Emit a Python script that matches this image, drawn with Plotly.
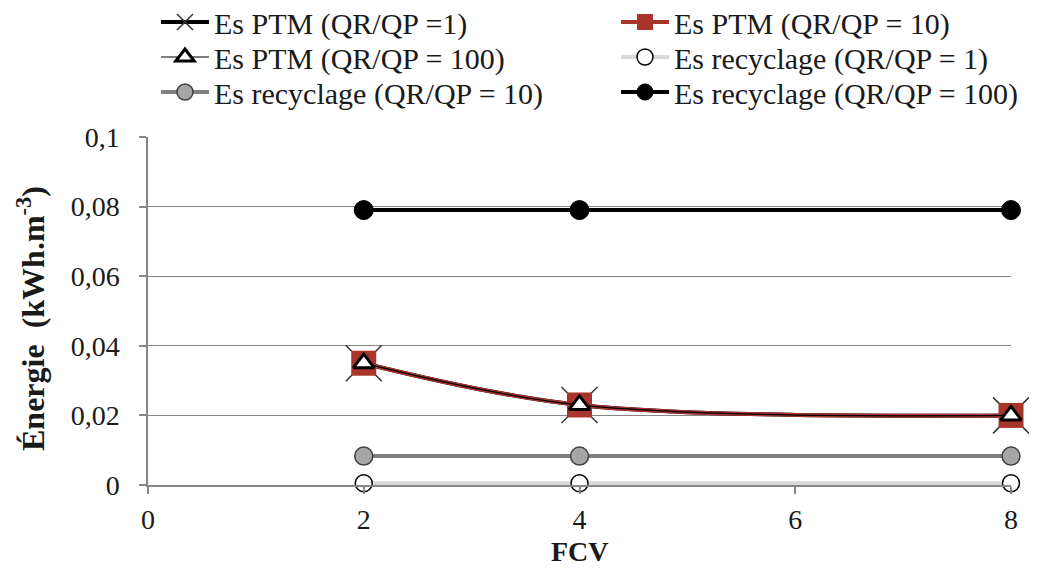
import plotly.graph_objects as go

fcv = [2, 4, 8]
ptm_1 = [0.035, 0.023, 0.020]
ptm_10 = [0.035, 0.023, 0.020]
ptm_100 = [0.035, 0.023, 0.020]
rec_1 = [0.0005, 0.0005, 0.0005]
rec_10 = [0.0083, 0.0083, 0.0083]
rec_100 = [0.079, 0.079, 0.079]

x_ticks = [0, 2, 4, 6, 8]
y_ticks = [0, 0.02, 0.04, 0.06, 0.08, 0.1]
y_tick_labels = ["0", "0,02", "0,04", "0,06", "0,08", "0,1"]

names = ["Es PTM (QR/QP =1)", "Es PTM (QR/QP = 10)", "Es PTM (QR/QP = 100)",
         "Es recyclage (QR/QP = 1)", "Es recyclage (QR/QP = 10)", "Es recyclage (QR/QP = 100)"]

FONT = "Liberation Serif, Times New Roman, serif"
TXT = "#1a1a1a"

fig = go.Figure()
fig.add_trace(go.Scatter(x=fcv, y=ptm_1, name=names[0], mode="lines+markers", legend="legend",
                         line=dict(color="black", width=4, shape="spline"),
                         marker=dict(symbol="x-thin", size=36, line=dict(color="#333333", width=1.5))))
fig.add_trace(go.Scatter(x=fcv, y=ptm_10, name=names[1], mode="lines+markers", legend="legend2",
                         line=dict(color="#A8342C", width=4, shape="spline"),
                         marker=dict(symbol="square", size=25, color="#A8342C", line=dict(width=0))))
fig.add_trace(go.Scatter(x=fcv, y=ptm_100, name=names[2], mode="lines+markers", legend="legend3",
                         line=dict(color="black", width=1.2, shape="spline"),
                         marker=dict(symbol="triangle-up", size=18, color="white", line=dict(color="black", width=3))))
fig.add_trace(go.Scatter(x=fcv, y=rec_1, name=names[3], mode="lines+markers", legend="legend4",
                         line=dict(color="#D9D9D9", width=4),
                         marker=dict(symbol="circle", size=17, color="white", line=dict(color="black", width=1.5))))
fig.add_trace(go.Scatter(x=fcv, y=rec_10, name=names[4], mode="lines+markers", legend="legend5",
                         line=dict(color="#808080", width=4),
                         marker=dict(symbol="circle", size=18, color="#A6A6A6", line=dict(color="#404040", width=1.5))))
fig.add_trace(go.Scatter(x=fcv, y=rec_100, name=names[5], mode="lines+markers", legend="legend6",
                         line=dict(color="black", width=4),
                         marker=dict(symbol="circle", size=19, color="black", line=dict(color="black", width=1))))
fig.update_traces(cliponaxis=False)

W, H = 1037, 569
ML, MR, MT, MB = 140, 34, 129, 92
PW, PH = W - ML - MR, H - MT - MB
col_x = [148 / W, 608 / W]
row_y = [1 - 14 / H, 1 - 49 / H, 1 - 84 / H]


def leg(col, row):
    return dict(orientation="v", xref="container", yref="container",
                x=col_x[col], y=row_y[row], xanchor="left", yanchor="middle", itemwidth=48,
                font=dict(family=FONT, size=30, color=TXT),
                tracegroupgap=0, bgcolor="rgba(0,0,0,0)")


fig.update_layout(
    width=W, height=H,
    paper_bgcolor="white", plot_bgcolor="white",
    margin=dict(l=ML, r=MR, t=MT, b=MB, autoexpand=False),
    font=dict(family=FONT, size=28, color=TXT),
    showlegend=True,
    legend=leg(0, 0), legend2=leg(1, 0),
    legend3=leg(0, 1), legend4=leg(1, 1),
    legend5=leg(0, 2), legend6=leg(1, 2),
    xaxis=dict(range=[0, 8], tickvals=x_ticks, ticktext=[str(v) for v in x_ticks],
               showgrid=False, zeroline=False, showline=True, linecolor="#868686", linewidth=1.5,
               ticks="outside", ticklen=7, tickcolor="#868686", tickwidth=1.5, ticklabelstandoff=2,
               tickfont=dict(family=FONT, size=28, color=TXT), automargin=False),
    yaxis=dict(range=[0, 0.1], tickvals=y_ticks, ticktext=y_tick_labels,
               showgrid=True, gridcolor="#868686", gridwidth=1.2, zeroline=False,
               showline=True, linecolor="#868686", linewidth=1.5,
               ticks="outside", ticklen=7, tickcolor="#868686", tickwidth=1.5, ticklabelstandoff=14,
               tickfont=dict(family=FONT, size=28, color=TXT), automargin=False),
    annotations=[
        dict(text="<b>FCV</b>", xref="paper", yref="paper", x=0.5, y=(H - MB - 543) / PH,
             xanchor="center", yanchor="middle", showarrow=False,
             font=dict(family=FONT, size=28, color=TXT)),
        dict(text="<b>Énergie  (kWh.m<sup>-3</sup>)</b>", xref="paper", yref="paper",
             x=(23 - ML) / PW, y=(H - MB - 310) / PH, textangle=-90,
             xanchor="center", yanchor="middle", showarrow=False,
             font=dict(family=FONT, size=32, color=TXT)),
    ],
)

fig.write_html("out.html")
